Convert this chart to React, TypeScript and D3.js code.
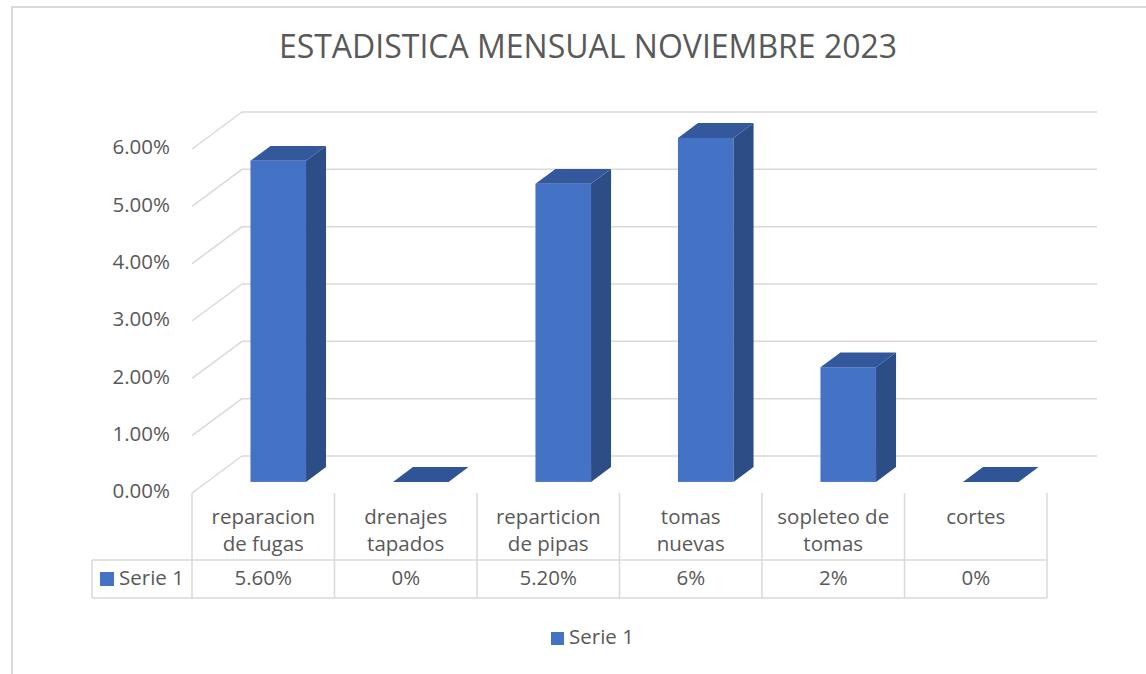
import * as d3 from 'd3';

const categories = ['reparacion de fugas', 'drenajes tapados', 'reparticion de pipas', 'tomas nuevas', 'sopleteo de tomas', 'cortes'];
const categoryLines = [['reparacion', 'de fugas'], ['drenajes', 'tapados'], ['reparticion', 'de pipas'], ['tomas', 'nuevas'], ['sopleteo de', 'tomas'], ['cortes']];
const serie1 = [0.056, 0, 0.052, 0.06, 0.02, 0];
const serie1Labels = ['5.60%', '0%', '5.20%', '6%', '2%', '0%'];
const yTicks = [0, 0.01, 0.02, 0.03, 0.04, 0.05, 0.06];

const W = 1146;
const H = 674;
const FONT = '"Open Sans", sans-serif';
const TEXT = '#595959';
const GRID = '#d9d9d9';
const FS = 20.5;

export default function App() {
  const x = d3.scaleBand<string>().domain(categories).range([192, 1047]);
  const y = d3.scaleLinear().domain([0, 0.06]).range([493, 149]);
  const fmt = d3.format('.2%');

  // oblique depth of the floor
  const depthX = 50;
  const depthY = -37;
  const fFront = 0.3;
  const fBack = 0.7;
  const barW = x.bandwidth() * 0.39;

  const tableTop = 493;
  const rowMid = 560;
  const tableBottom = 598;

  return (
    <svg width={W} height={H} style={{ position: 'absolute', left: 0, top: 0, background: '#fff' }}>
      <path d={`M12,${H + 5} L12,7 L${W + 5},7`} fill="none" stroke={GRID} strokeWidth={2} />

      <text x={588} y={49} textAnchor="middle" dominantBaseline="middle" fontFamily={FONT} fontSize={32} fill={TEXT}>
        ESTADISTICA MENSUAL NOVIEMBRE 2023
      </text>

      {/* walls */}
      {yTicks.map((t) => (
        <g key={t}>
          <line x1={192} y1={y(t)} x2={192 + depthX} y2={y(t) + depthY} stroke={GRID} strokeWidth={1.5} />
          <line x1={192 + depthX} y1={y(t) + depthY} x2={1047 + depthX} y2={y(t) + depthY} stroke={GRID} strokeWidth={1.5} />
          <text x={170} y={y(t)} textAnchor="end" dominantBaseline="middle" fontFamily={FONT} fontSize={FS} fill={TEXT}>
            {fmt(t)}
          </text>
        </g>
      ))}

      {/* bars */}
      {categories.map((c, i) => {
        const cx = (x(c) ?? 0) + x.bandwidth() / 2;
        const x0 = cx - barW / 2 + depthX * fFront;
        const x1 = x0 + barW;
        const bY = y(0) + depthY * fFront;
        const tY = y(serie1[i]) + depthY * fFront;
        const dx = depthX * (fBack - fFront);
        const dy = depthY * (fBack - fFront);
        return (
          <g key={c}>
            {serie1[i] > 0 && (
              <>
                <rect x={x0} y={tY} width={barW} height={bY - tY} fill="#4472c4" />
                <path d={`M${x1},${tY} L${x1 + dx},${tY + dy} L${x1 + dx},${bY + dy} L${x1},${bY} Z`} fill="#2c4d86" />
              </>
            )}
            <path d={`M${x0},${tY} L${x0 + dx},${tY + dy} L${x1 + dx},${tY + dy} L${x1},${tY} Z`} fill={serie1[i] > 0 ? '#33589c' : '#2f5597'} />
          </g>
        );
      })}

      {/* data table */}
      {categories.map((c) => (
        <line key={c} x1={x(c)} y1={tableTop} x2={x(c)} y2={tableBottom} stroke={GRID} strokeWidth={1.5} />
      ))}
      <line x1={1047} y1={tableTop} x2={1047} y2={tableBottom} stroke={GRID} strokeWidth={1.5} />
      <line x1={92} y1={rowMid} x2={1047} y2={rowMid} stroke={GRID} strokeWidth={1.5} />
      <line x1={92} y1={tableBottom} x2={1047} y2={tableBottom} stroke={GRID} strokeWidth={1.5} />
      <line x1={92} y1={rowMid} x2={92} y2={tableBottom} stroke={GRID} strokeWidth={1.5} />
      <rect x={100} y={572} width={14} height={14} fill="#4472c4" />
      <text x={119} y={580} dominantBaseline="middle" fontFamily={FONT} fontSize={FS} fill={TEXT}>Serie 1</text>

      {categories.map((c, i) => {
        const cx = (x(c) ?? 0) + x.bandwidth() / 2;
        return (
          <g key={c}>
            {categoryLines[i].map((ln, j) => (
              <text key={j} x={cx} y={519 + j * 27} textAnchor="middle" dominantBaseline="middle" fontFamily={FONT} fontSize={FS} fill={TEXT}>
                {ln}
              </text>
            ))}
            <text x={cx} y={580} textAnchor="middle" dominantBaseline="middle" fontFamily={FONT} fontSize={FS} fill={TEXT}>
              {serie1Labels[i]}
            </text>
          </g>
        );
      })}

      {/* legend */}
      <rect x={551} y={632} width={13} height={13} fill="#4472c4" />
      <text x={569} y={639} dominantBaseline="middle" fontFamily={FONT} fontSize={FS} fill={TEXT}>Serie 1</text>
    </svg>
  );
}
